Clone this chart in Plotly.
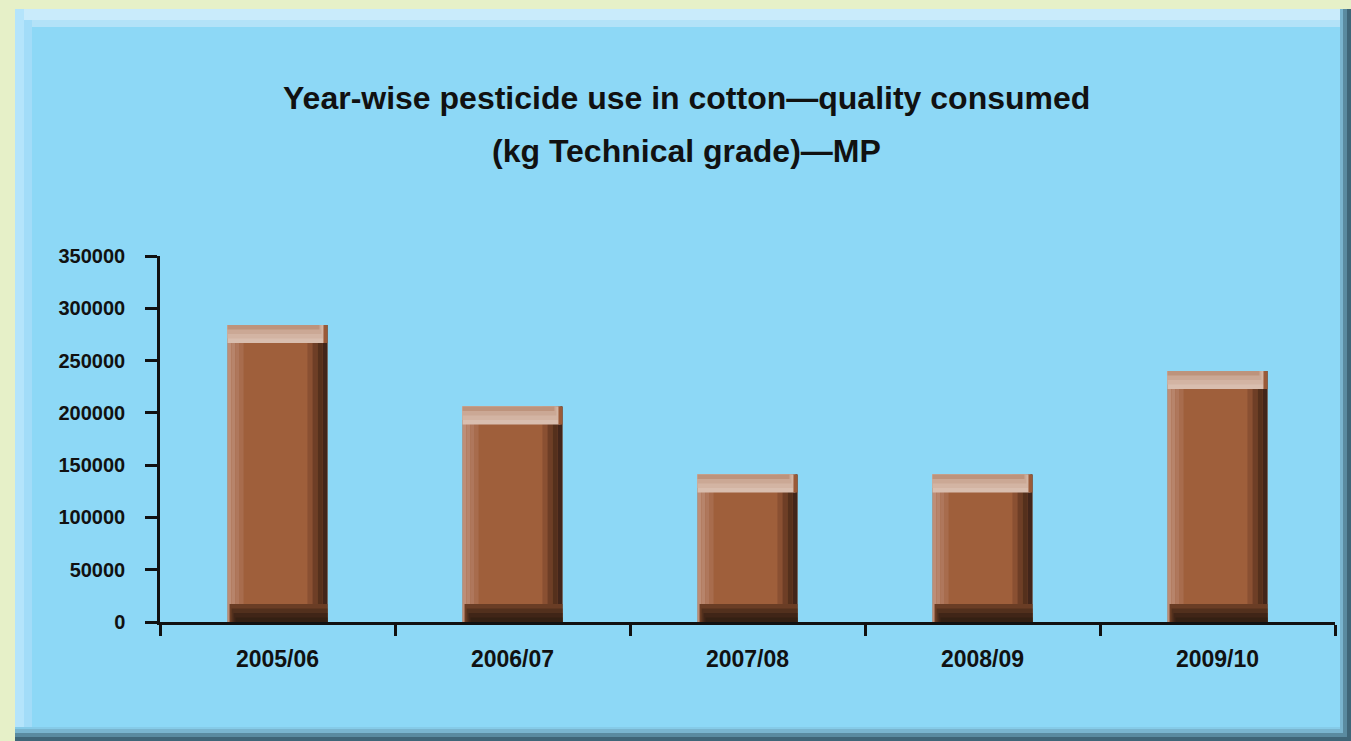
import plotly.graph_objects as go

# Data: quantity of pesticide consumed in cotton, Madhya Pradesh (kg technical grade)
seasons = ["2005/06", "2006/07", "2007/08", "2008/09", "2009/10"]
quantity_kg = [284000, 206000, 141000, 141000, 240000]
y_ticks = [0, 50000, 100000, 150000, 200000, 250000, 300000, 350000]

title_lines = ["Year-wise pesticide use in cotton\u2014quality consumed",
               "(kg Technical grade)\u2014MP"]

FONT = "'Liberation Sans Narrow', 'Liberation Sans', sans-serif"
W, H = 1351, 741
L, R, T, B = 160, 16, 256, 119          # plot-area margins (px)
BAR_W = 0.425                            # bar width in category units
Y_MAX = 350000

OUTER = "#E6F0C8"
PANEL = "#8DD8F6"

fig = go.Figure()

# Main bar body
fig.add_trace(go.Bar(x=seasons, y=quantity_kg, width=BAR_W,
                     marker=dict(color="#9F5F3B", line=dict(width=0)),
                     hoverinfo="x+y"))

# Shaded edges to give the bars a rounded, bevelled look
px_to_cat = 1.0 / ((W - L - R) / len(seasons))   # category units per pixel
px_to_val = Y_MAX / (H - T - B)                  # data units per pixel

left_shades = ["#BE8E77", "#B7846B", "#AF775C", "#A86C4D"]
right_shades = ["#8A5032", "#6E3E26", "#55301C", "#42251A"]
top_shades = ["#D9BEAF", "#D3B4A3", "#CBA895", "#BD937C"]
bottom_shades = ["#6A3D25", "#52301D", "#402517", "#342013"]

strip = 4  # px per shading step
half = BAR_W / 2

for i, c in enumerate(left_shades):
    fig.add_trace(go.Bar(x=seasons, y=quantity_kg, width=strip * px_to_cat,
                         offset=-half + i * strip * px_to_cat,
                         marker=dict(color=c, line=dict(width=0)), hoverinfo="skip"))
for i, c in enumerate(right_shades):
    fig.add_trace(go.Bar(x=seasons, y=quantity_kg, width=5 * px_to_cat,
                         offset=half - (len(right_shades) - i) * 5 * px_to_cat,
                         marker=dict(color=c, line=dict(width=0)), hoverinfo="skip"))
for i, c in enumerate(bottom_shades):
    h = (len(bottom_shades) - i) * 4.5 * px_to_val
    fig.add_trace(go.Bar(x=seasons, y=[h] * len(seasons), base=0,
                         width=BAR_W - (i + 1) * 2 * px_to_cat,
                         offset=-half + (i + 1) * 2 * px_to_cat,
                         marker=dict(color=c, line=dict(width=0)), hoverinfo="skip"))
for i, c in enumerate(top_shades):
    h = (len(top_shades) - i) * 4.5 * px_to_val
    fig.add_trace(go.Bar(x=seasons, y=[h] * len(seasons),
                         base=[v - h for v in quantity_kg],
                         width=BAR_W - (i + 1) * 2 * px_to_cat,
                         offset=-half,
                         marker=dict(color=c, line=dict(width=0)), hoverinfo="skip"))
# darker right corner of the cap
fig.add_trace(go.Bar(x=seasons, y=[18 * px_to_val] * len(seasons),
                     base=[v - 18 * px_to_val for v in quantity_kg],
                     width=4 * px_to_cat, offset=half - 4 * px_to_cat,
                     marker=dict(color="#9A5A38", line=dict(width=0)), hoverinfo="skip"))


def px_x(p):
    return (p - L) / (W - L - R)


def px_y(p):
    return (H - B - p) / (H - T - B)


# Bevelled background panel
shapes = []


def rect(x0, y0, x1, y1, color):
    shapes.append(dict(type="rect", xref="paper", yref="paper", layer="below",
                       x0=px_x(x0), x1=px_x(x1), y0=px_y(y1), y1=px_y(y0),
                       fillcolor=color, line=dict(width=0)))


rect(15, 9, 1351, 741, "#3F6678")          # outer shadow
rect(15, 9, 1347, 737, "#5A8BA0")
rect(15, 9, 1343, 733, "#79B5CF")
rect(15, 9, 1340, 729, "#86CBE8")
rect(15, 9, 1340, 727, PANEL)
rect(15, 9, 1340, 20, "#C9EBFB")          # top highlight
rect(15, 20, 1340, 27, "#B3E2F8")
rect(15, 9, 24, 727, "#B4E4FB")           # left highlight
rect(24, 20, 32, 727, "#A2DCF8")

# Two-line title, each line placed separately for wider line spacing
title_annotations = [
    dict(text="<b>%s</b>" % line, xref="paper", yref="paper",
         x=px_x(686), y=px_y(top), xanchor="center", yanchor="top",
         showarrow=False, font=dict(family=FONT, size=32, color="#111111"))
    for line, top in zip(title_lines, [78, 131])
]

fig.update_layout(
    width=W, height=H,
    margin=dict(l=L, r=R, t=T, b=B, pad=0),
    paper_bgcolor=OUTER,
    plot_bgcolor="rgba(0,0,0,0)",
    barmode="overlay",
    showlegend=False,
    shapes=shapes,
    font=dict(family=FONT, color="#111111"),
    annotations=title_annotations,
    xaxis=dict(
        type="category", categoryorder="array", categoryarray=seasons,
        range=[-0.5, len(seasons) - 0.5],
        showline=True, linecolor="#111111", linewidth=2.5,
        ticks="outside", tickson="boundaries", ticklen=11, tickwidth=2.5,
        tickcolor="#111111", ticklabelstandoff=15,
        tickfont=dict(family=FONT, size=23, color="#111111"),
        tickprefix="<b>", ticksuffix="</b>",
        showgrid=False, zeroline=False, fixedrange=True),
    yaxis=dict(
        range=[0, Y_MAX], tickmode="array", tickvals=y_ticks,
        ticktext=["<b>%d</b>" % v for v in y_ticks],
        showline=True, linecolor="#111111", linewidth=2.5,
        ticks="outside", ticklen=12, tickwidth=2.5, tickcolor="#111111",
        ticklabelstandoff=16,
        tickfont=dict(family=FONT, size=20, color="#111111"),
        showgrid=False, zeroline=False, fixedrange=True),
)

fig.write_html("out.html")
